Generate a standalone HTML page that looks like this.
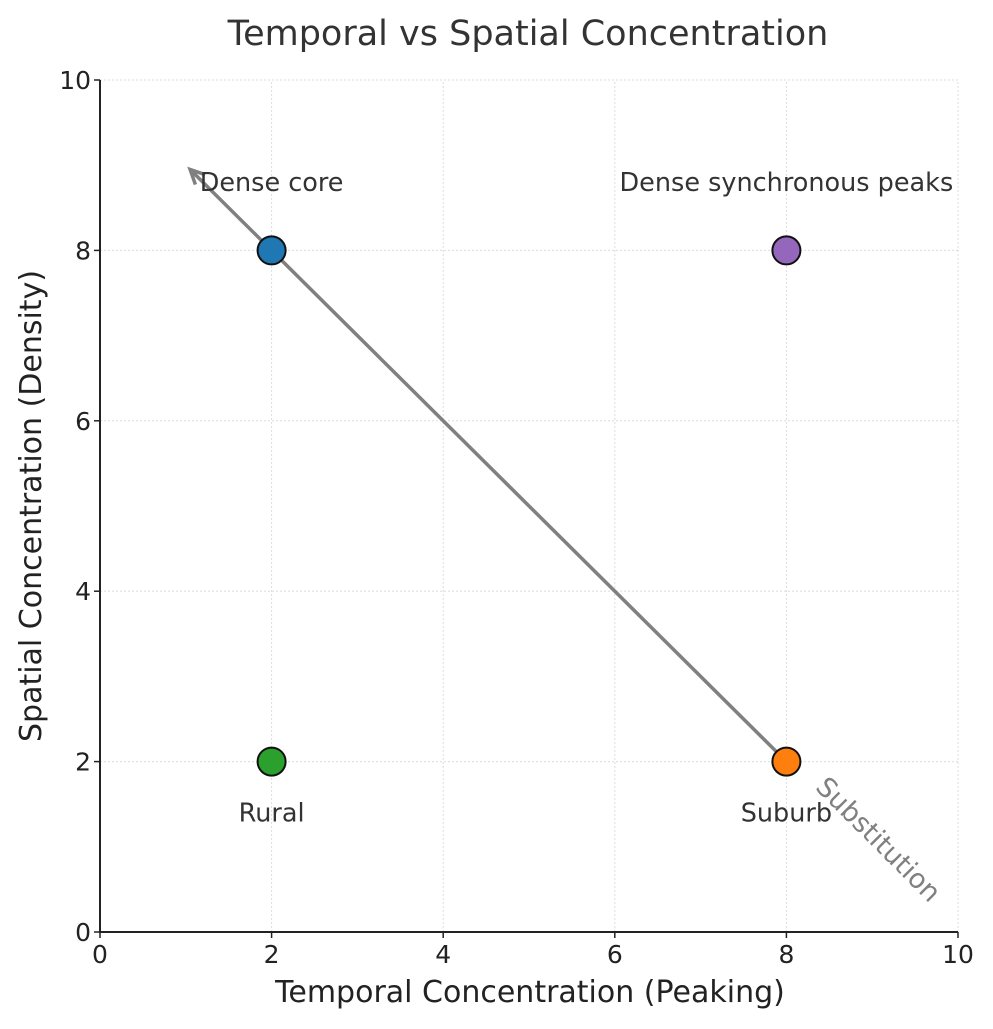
<!DOCTYPE html>
<html><head><meta charset="utf-8"><style>
body{margin:0;background:#fff;}
text{font-family:"DejaVu Sans","Liberation Sans",sans-serif;}
</style></head><body>
<svg id="chart" width="993" height="1024" viewBox="0 0 993 1024" xmlns="http://www.w3.org/2000/svg">
<text x="528" y="45" text-anchor="middle" font-size="35" fill="#333">Temporal vs Spatial Concentration</text>
<g id="grid"></g>
<g id="axes"></g>
<g id="marks"></g>
<text x="530" y="1002" text-anchor="middle" font-size="30" fill="#222">Temporal Concentration (Peaking)</text>
<text transform="translate(41,506) rotate(-90)" text-anchor="middle" font-size="30" fill="#222">Spatial Concentration (Density)</text>
</svg>
<script>
const xTicks=[0,2,4,6,8,10];
const yTicks=[0,2,4,6,8,10];
const names=["Dense core","Dense synchronous peaks","Rural","Suburb"];
const xs=[2,8,2,8];
const ys=[8,8,2,2];
const colors=["#1f77b4","#9467bd","#2ca02c","#ff7f0e"];
const labelYs=[8.8,8.8,1.4,1.4];
const arrowFrom=[8,2];
const arrowTo=[1.05,8.95];
const NS="http://www.w3.org/2000/svg";
const X=v=>100+v*85.8, Y=v=>932-v*85.2;
function mk(t,a,p){const e=document.createElementNS(NS,t);for(const k in a)e.setAttribute(k,a[k]);p.appendChild(e);return e;}
const grid=document.getElementById('grid'),axes=document.getElementById('axes'),marks=document.getElementById('marks');
xTicks.forEach(t=>{
 const g=mk('line',{x1:X(t),x2:X(t),y1:Y(0),y2:Y(10),stroke:'#ddd','stroke-dasharray':'2,2','stroke-width':1},grid);
 
 
 const tk=mk('line',{x1:X(t),x2:X(t),y1:932,y2:938,stroke:'#222','stroke-width':1.5},axes);
 
 
 const l=mk('text',{x:X(t),y:963,'text-anchor':'middle','font-size':25,fill:'#222'},axes);l.textContent=t;
 
 
});
yTicks.forEach(t=>{
 const g=mk('line',{x1:X(0),x2:X(10),y1:Y(t),y2:Y(t),stroke:'#ddd','stroke-dasharray':'2,2','stroke-width':1},grid);
 
 
 const tk=mk('line',{x1:94,x2:100,y1:Y(t),y2:Y(t),stroke:'#222','stroke-width':1.5},axes);
 
 
 const l=mk('text',{x:91,y:Y(t)+9,'text-anchor':'end','font-size':25,fill:'#222'},axes);l.textContent=t;
 
 
});
const ax=mk('path',{d:`M${X(0)} ${Y(10)}V${Y(0)}H${X(10)}`,fill:'none',stroke:'#222','stroke-width':2},axes);


const x1=X(arrowFrom[0]),y1=Y(arrowFrom[1]),x2=X(arrowTo[0]),y2=Y(arrowTo[1]);
const ang=Math.atan2(y2-y1,x2-x1),h=16;
const ar=mk('path',{d:`M${x1} ${y1}L${x2} ${y2}M${x2-h*Math.cos(ang-0.45)} ${y2-h*Math.sin(ang-0.45)}L${x2} ${y2}L${x2-h*Math.cos(ang+0.45)} ${y2-h*Math.sin(ang+0.45)}`,fill:'none',stroke:'#808080','stroke-width':3.5},marks);


const st=mk('text',{transform:`translate(872,846) rotate(45)`,'text-anchor':'middle','font-size':27,fill:'#808080'},marks);st.textContent='Substitution';


names.forEach((n,i)=>{
 const c=mk('circle',{cx:X(xs[i]),cy:Y(ys[i]),r:14,fill:colors[i],stroke:'#111','stroke-width':2},marks);
 
 
 const t=mk('text',{x:X(xs[i]),y:Y(labelYs[i])+9,'text-anchor':'middle','font-size':25.5,fill:'#333'},marks);t.textContent=n;
 
 
});
</script>
</body></html>
